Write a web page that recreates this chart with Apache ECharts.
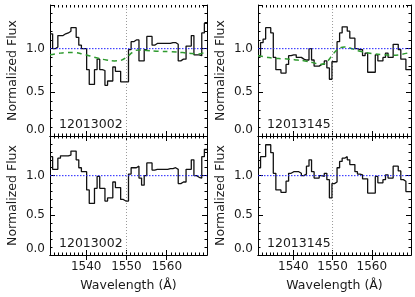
<!DOCTYPE html>
<html><head><meta charset="utf-8">
<script src="https://cdn.jsdelivr.net/npm/echarts@6/dist/echarts.min.js"></script>
<style>html,body{margin:0;padding:0;background:#fff}#c{width:415px;height:297px}</style>
</head><body><div id="c"></div>
<script>
// ---- data ----
const wavelength = [
 1531.325,1531.975,1532.625,1533.275,1533.925,1534.575,1535.225,1535.875,1536.525,1537.175,
 1537.825,1538.475,1539.125,1539.775,1540.425,1541.075,1541.725,1542.375,1543.025,1543.675,
 1544.325,1544.975,1545.625,1546.275,1546.925,1547.575,1548.225,1548.875,1549.525,1550.175,
 1550.825,1551.475,1552.125,1552.775,1553.425,1554.075,1554.725,1555.375,1556.025,1556.675,
 1557.325,1557.975,1558.625,1559.275,1559.925,1560.575,1561.225,1561.875,1562.525,1563.175,
 1563.825,1564.475,1565.125,1565.775,1566.425,1567.075,1567.725,1568.375,1569.025,1569.675];
const flux12013002 = [
 1.17,1.00,1.02,1.15,1.15,1.17,1.18,1.20,1.24,1.24,
 1.13,1.04,1.00,1.00,0.76,0.59,0.59,0.76,0.88,0.76,
 0.75,0.58,0.63,0.63,0.79,0.74,0.74,0.62,0.62,0.62,
 0.99,1.08,1.10,1.10,0.86,0.86,0.99,1.14,1.14,1.04,
 1.06,1.06,1.06,1.06,1.06,1.06,1.07,1.07,1.05,0.86,
 0.88,0.88,1.03,1.03,1.15,0.93,0.93,0.92,1.18,1.29];
const norm12013002 = [
 1.24,1.08,1.08,1.22,1.25,1.25,1.25,1.26,1.31,1.31,
 1.20,1.10,1.05,1.05,0.82,0.65,0.65,0.84,0.99,0.84,
 0.84,0.68,0.72,0.72,0.92,0.85,0.85,0.70,0.68,0.68,
 1.02,1.10,1.10,1.12,0.97,0.88,1.00,1.16,1.16,1.07,
 1.08,1.08,1.08,1.08,1.08,1.09,1.09,1.10,1.08,0.90,
 0.92,0.92,1.08,1.08,1.20,1.00,0.98,0.97,1.24,1.33];
const flux12013145 = [
 0.92,1.07,1.11,1.24,1.24,1.18,0.90,0.76,0.76,0.72,
 0.72,0.82,0.92,0.93,0.93,0.90,0.90,0.88,0.87,0.87,
 1.00,0.87,0.80,0.80,0.82,0.82,0.86,0.78,0.65,0.85,
 0.85,1.08,1.18,1.25,1.25,1.20,1.12,1.12,1.00,0.99,
 0.99,0.92,0.95,0.73,0.73,0.73,0.93,0.86,0.86,0.90,
 0.95,0.90,0.90,1.05,1.05,0.99,0.88,0.88,0.76,0.76];
const norm12013145 = [
 1.10,1.24,1.24,1.39,1.39,1.29,1.03,0.82,0.82,0.79,
 0.79,0.93,1.03,1.05,1.05,1.05,1.03,1.00,1.02,1.12,
 1.20,1.05,0.97,0.97,1.00,0.99,1.03,0.95,0.72,0.90,
 0.92,1.10,1.18,1.22,1.24,1.20,1.14,1.14,1.05,1.02,
 1.01,0.96,0.96,0.78,0.78,0.78,0.99,0.91,0.91,0.95,
 1.01,0.97,0.97,1.12,1.12,1.06,0.95,0.93,0.80,0.80];
const contWave12013002 = [1531,1533,1535,1537,1539,1541,1543,1545,1547,1548.5,1550,1551,1552,1553,1555,1558,1561,1564,1566,1568,1570];
const cont12013002     = [0.93,0.945,0.955,0.955,0.94,0.915,0.89,0.87,0.86,0.865,0.90,0.94,0.975,0.985,0.98,0.97,0.965,0.955,0.945,0.94,0.97];
const contWave12013145 = [1531,1533,1535,1537,1539,1541,1543,1545,1547,1548,1549,1550,1551,1552,1553,1555,1557,1560,1563,1565,1567,1570];
const cont12013145     = [0.92,0.905,0.89,0.885,0.88,0.87,0.86,0.84,0.82,0.83,0.87,0.93,0.98,1.01,1.02,1.00,0.97,0.945,0.93,0.925,0.93,0.96];
const sampleNames = ['12013002','12013145'];
const xMajorTicks = [1540, 1550, 1560];
const yLabelTicks = [0, 0.5, 1.0];
const lineCenter = 1550;
const continuumLevel = 1.0;
const xMin = 1531, xMax = 1570, yMin = 0, yMax = 1.5;

// ---- chart ----
const FONT = 'DejaVu Sans';
const TXT = '#1a1a1a';
const grids = [
  {left:50,  top:5,   width:157, height:131},
  {left:50,  top:136, width:157, height:119},
  {left:258, top:5,   width:153, height:131},
  {left:258, top:136, width:153, height:119}
];
const panels = [
  {flux: flux12013002, cont: [contWave12013002, cont12013002], name: sampleNames[0], bottom:false},
  {flux: norm12013002, cont: null, name: sampleNames[0], bottom:true},
  {flux: flux12013145, cont: [contWave12013145, cont12013145], name: sampleNames[1], bottom:false},
  {flux: norm12013145, cont: null, name: sampleNames[1], bottom:true}
];

function edges(c){
  const e = [c[0] - (c[1]-c[0])/2];
  for (let i=1;i<c.length;i++) e.push((c[i-1]+c[i])/2);
  e.push(c[c.length-1] + (c[c.length-1]-c[c.length-2])/2);
  return e;
}
const binEdges = edges(wavelength);
function stepData(f){
  const d=[];
  for (let i=0;i<f.length;i++){ d.push([binEdges[i], f[i]]); d.push([binEdges[i+1], f[i]]); }
  return d;
}

const xAxis=[], yAxis=[], series=[], graphic=[];
const axisLine = {show:true, lineStyle:{color:'#000', width:1}};
panels.forEach((p,g)=>{
  const base = {gridIndex:g, type:'value', min:xMin, max:xMax, splitLine:{show:false}};
  xAxis.push(Object.assign({}, base, {
    position:'bottom', axisLine,
    axisTick:{show:true, inside:true, length:5, customValues:xMajorTicks, lineStyle:{color:'#000'}},
    axisLabel:{show:p.bottom, customValues:xMajorTicks, formatter:v=>String(v), margin:6, fontSize:12, color:TXT, fontFamily:FONT},
    name: p.bottom ? 'Wavelength (Å)' : '', nameLocation:'middle', nameGap:24,
    nameTextStyle:{fontSize:12.5, color:TXT, fontFamily:FONT}
  }));
  xAxis.push(Object.assign({}, base, {
    position:'top', axisLine,
    axisTick:{show:true, inside:true, length:5, customValues:xMajorTicks, lineStyle:{color:'#000'}},
    axisLabel:{show:false}
  }));
  xAxis.push(Object.assign({}, base, {
    position:'bottom', interval:1, axisLine:{show:false},
    axisTick:{show:true, inside:true, length:2.5, lineStyle:{color:'#000'}},
    axisLabel:{show:false}
  }));
  xAxis.push(Object.assign({}, base, {
    position:'top', interval:1, axisLine:{show:false},
    axisTick:{show:true, inside:true, length:2.5, lineStyle:{color:'#000'}},
    axisLabel:{show:false}
  }));
  const ybase = {gridIndex:g, type:'value', min:yMin, max:yMax, interval:0.5, splitLine:{show:false},
    axisLine, axisTick:{show:true, inside:true, length:5, lineStyle:{color:'#000'}},
    minorTick:{show:true, splitNumber:5, length:2.5, lineStyle:{color:'#000'}}, minorSplitLine:{show:false}};
  yAxis.push(Object.assign({}, ybase, {
    position:'left',
    axisLabel:{show:true, customValues:yLabelTicks, formatter:v=>v.toFixed(1), margin:5, fontSize:12, color:TXT, fontFamily:FONT, verticalAlignMinLabel:'bottom'},
    name:'Normalized Flux', nameLocation:'middle', nameGap:31,
    nameTextStyle:{fontSize:12.5, color:TXT, fontFamily:FONT}
  }));
  yAxis.push(Object.assign({}, ybase, {position:'right', axisLabel:{show:false}}));

  // vertical dotted line at line centre
  series.push({
    type:'line', xAxisIndex:4*g, yAxisIndex:2*g, symbol:'none', showSymbol:false, z:2, animation:false,
    data:[[lineCenter, yMin], [lineCenter, yMax]],
    lineStyle:{color:'#9a9a9a', type:[1,2], width:1}
  });
  // flux histogram
  series.push({
    type:'line', xAxisIndex:4*g, yAxisIndex:2*g, data:stepData(p.flux), symbol:'none', showSymbol:false,
    lineStyle:{color:'#111', width:1.3}, animation:false, z:3
  });
  // continuum level (blue dotted)
  series.push({
    type:'line', xAxisIndex:4*g, yAxisIndex:2*g, symbol:'none', showSymbol:false, z:5, animation:false,
    data:[[xMin, continuumLevel], [xMax, continuumLevel]],
    lineStyle:{color:'#1f1fff', type:[1.5,1.5], width:1}
  });
  if (p.cont){
    series.push({
      type:'line', xAxisIndex:4*g, yAxisIndex:2*g, smooth:0.4, symbol:'none', showSymbol:false,
      data:p.cont[0].map((w,i)=>[w, p.cont[1][i]]),
      lineStyle:{color:'#2f9a2f', type:[5,4], width:1.5}, animation:false, z:4
    });
  }
  const gr = grids[g];
  graphic.push({type:'text', left: gr.left + 9, top: gr.top + gr.height - 18, silent:true,
    style:{text:p.name, fontSize:12.5, fontFamily:FONT, fill:TXT}});
});

const chart = echarts.init(document.getElementById('c'), null, {renderer:'canvas'});
chart.setOption({
  animation:false, backgroundColor:'#fff',
  textStyle:{fontFamily:FONT},
  grid: grids.map(g=>Object.assign({containLabel:false}, g)),
  xAxis, yAxis, series, graphic
});
</script></body></html>
